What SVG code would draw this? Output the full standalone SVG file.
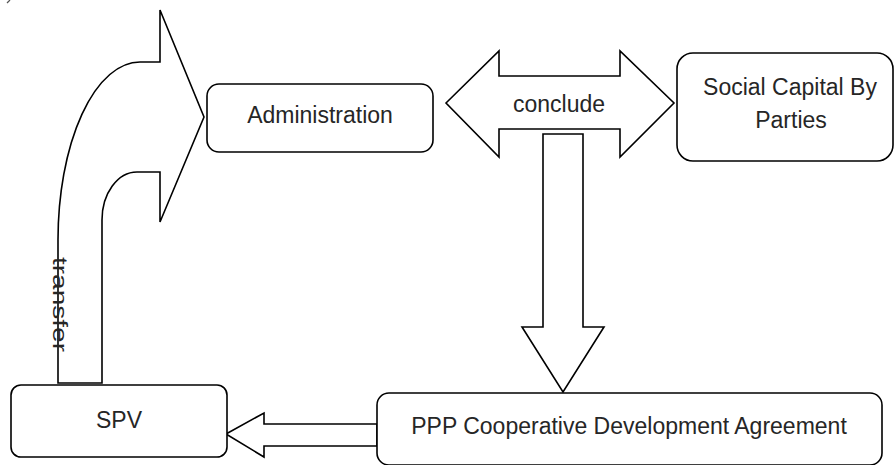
<svg xmlns="http://www.w3.org/2000/svg" width="894" height="465" viewBox="0 0 894 465">
<style>
.box{fill:#fff;stroke:#000;stroke-width:1.6}
.arr{fill:#fff;stroke:#000;stroke-width:1.6;stroke-linejoin:miter}
.t{font-family:"Liberation Sans",Arial,sans-serif;font-size:23px;fill:#262626;text-anchor:middle}
</style>
<rect width="894" height="465" fill="#fff"/>
<path d="M10 0 L7 3" stroke="#555" stroke-width="1.2"/>
<g id="connectors">
<path class="arr" d="M58 383 L58 240 A82 178 0 0 1 140 62 L160 62 L160 10 L204 117 L160 222 L160 172 L137 172 A35 48 0 0 0 102 220 L102 383 Z"/>
<text class="t" font-size="20" transform="translate(53,257) rotate(90)" text-anchor="start" textLength="95" lengthAdjust="spacingAndGlyphs" style="font-size:20px;text-anchor:start">transfer</text>
<path class="arr" d="M446 103 L499 51 L499 76 L620 76 L620 51 L674 103 L620 157 L620 129 L499 129 L499 157 Z"/>
<text class="t" x="559" y="112">conclude</text>
<path class="arr" d="M543 134 L583 134 L583 327 L604 327 L563 392 L522 327 L543 327 Z"/>
<path class="arr" d="M226 434 L264 413 L264 424 L377 424 L377 446 L264 446 L264 457 Z"/>
</g>
<g id="admin">
<rect class="box" x="207" y="84" width="226" height="68" rx="12"/>
<text class="t" x="320" y="123">Administration</text>
</g>
<g id="social">
<rect class="box" x="677" y="53" width="216" height="108" rx="16"/>
<text class="t" x="790" y="95">Social Capital By</text>
<text class="t" x="791" y="128">Parties</text>
</g>
<g id="ppp">
<rect class="box" x="377" y="393" width="505" height="72" rx="12"/>
<text class="t" x="629" y="434">PPP Cooperative Development Agreement</text>
</g>
<g id="spv">
<rect class="box" x="11" y="385" width="216" height="72" rx="10"/>
<text class="t" x="119" y="428">SPV</text>
</g>
</svg>
